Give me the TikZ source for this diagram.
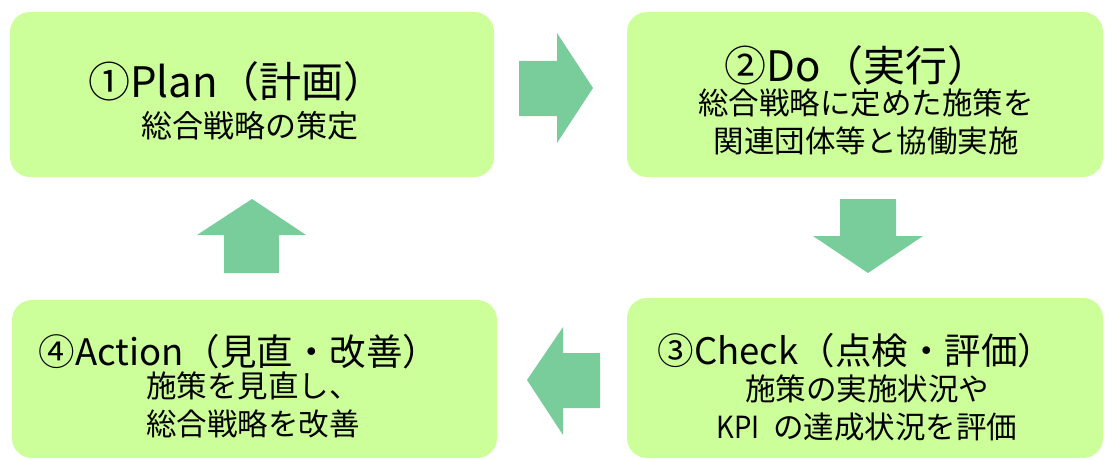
\documentclass[tikz,border=0pt]{standalone}
\usepackage{fontspec}
\usepackage{graphicx}
\setmainfont{Noto Sans CJK JP}
\definecolor{boxfill}{RGB}{204,255,153}
\definecolor{arrowfill}{RGB}{120,205,155}
\begin{document}
\begin{tikzpicture}[x=1pt,y=-1pt,
  stage/.style={fill=boxfill,draw=none,rounded corners=20pt,inner sep=0pt},
  ttlbig/.style={inner sep=0pt,font=\fontsize{42}{46}\selectfont},
  ttlsmall/.style={inner sep=0pt,font=\fontsize{36.5}{40}\selectfont},
  sub/.style={inner sep=0pt,align=center,font=\fontsize{30.5}{38}\selectfont},
  blockarrow/.style={fill=arrowfill,draw=none}]
\useasboundingbox (0,0) rectangle (1105,460);
% boxes
\node[stage,minimum width=484pt,minimum height=165pt] (plan) at (252,94.5) {};
\node[stage,minimum width=476pt,minimum height=165pt] (do) at (865,94.5) {};
\node[stage,minimum width=476pt,minimum height=160pt] (check) at (865,378) {};
\node[stage,minimum width=485pt,minimum height=158pt] (act) at (254.5,379) {};
% texts
\node[ttlbig] (plant) at (237,82) {①Plan（計画）};
\node[sub,font=\fontsize{31}{38}\selectfont] (plans) at (250,126) {総合戦略の策定};
\node[ttlbig] (dot) at (857,66) {②Do（実行）};
\node[sub] (dos) at (866,122) {総合戦略に定めた施策を\\関連団体等と協働実施};
\node[ttlsmall] (checkt) at (856,351) {③Check（点検・評価）};
\node[sub] (checks) at (867,408) {施策の実施状況や\\\scalebox{0.9}[1]{KPI}\hspace{0.45em}の達成状況を評価};
\node[ttlsmall] (actt) at (239,352) {④Action（見直・改善）};
\node[sub] (acts) at (253,405) {施策を見直し、\\総合戦略を改善};
% block arrows
\fill[blockarrow] (519,61) -- (557,61) -- (557,33) -- (593,88) -- (557,143) -- (557,116) -- (519,116) -- cycle;
\fill[blockarrow] (840,199) -- (896,199) -- (896,236) -- (923,236) -- (868,273) -- (813,236) -- (840,236) -- cycle;
\fill[blockarrow] (600,353) -- (563,353) -- (563,327) -- (527,380) -- (563,435) -- (563,408) -- (600,408) -- cycle;
\fill[blockarrow] (224,273) -- (224,235) -- (197,235) -- (252,199) -- (306,235) -- (279,235) -- (279,273) -- cycle;
\end{tikzpicture}
\end{document}
